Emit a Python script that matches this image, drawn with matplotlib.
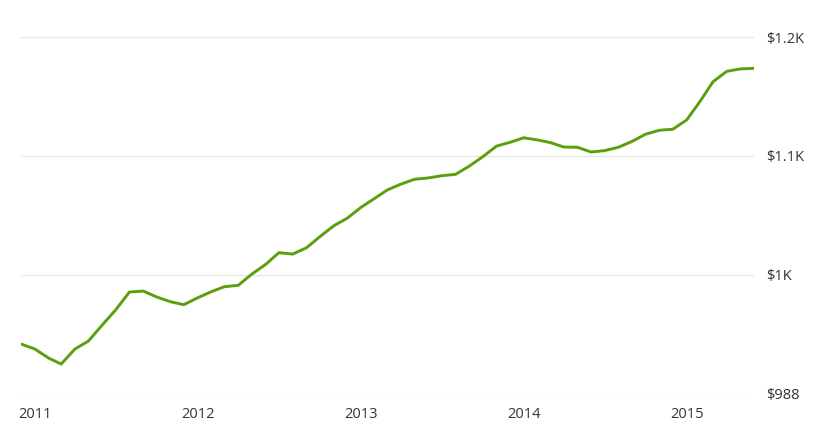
import matplotlib
matplotlib.use("Agg")
import matplotlib.pyplot as plt
import pandas as pd

# Monthly values, Dec 2010 .. Jun 2015
start_month = "2010-12-01"
values = [1012.9, 1010.4, 1005.8, 1002.8, 1010.4, 1014.4, 1022.5, 1030.1, 1039.2, 1039.7,
          1036.7, 1034.3, 1032.8, 1036.3, 1039.4, 1041.9, 1042.6, 1048.2, 1053.1, 1059.1,
          1058.4, 1061.6, 1067.2, 1072.7, 1076.5, 1082.0, 1086.6, 1090.8, 1093.8, 1096.2,
          1096.9, 1098.0, 1098.7, 1102.9, 1107.6, 1113.0, 1114.9, 1117.2, 1116.1, 1114.8,
          1112.5, 1112.4, 1110.0, 1110.7, 1112.4, 1115.4, 1119.0, 1121.0, 1121.5, 1126.2,
          1135.9, 1145.5, 1150.8, 1152.0, 1152.3]
y_ticks = [988, 1048, 1108, 1168]
y_labels = ["$988", "$1K", "$1.1K", "$1.2K"]
x_years = ["2011", "2012", "2013", "2014", "2015"]

dates = pd.date_range(start_month, periods=len(values), freq="MS")

plt.rcParams['font.family'] = ['Open Sans', 'DejaVu Sans']

fig = plt.figure(figsize=(8.23, 4.38), dpi=100)
ax = fig.add_axes([21/823, 1-393.3/438, (754-21)/823, (393.3-37.3)/438])

ax.plot(dates, values, color="#5c9e0e", lw=2.1, solid_joinstyle="round", zorder=3)

ax.set_ylim(y_ticks[0], y_ticks[-1])
ax.set_xlim(dates[0], dates[-1])
ax.set_yticks(y_ticks)
ax.set_yticklabels(y_labels)
xt = [pd.Timestamp(f"{y}-01-01") for y in x_years]
ax.set_xticks(xt)
ax.set_xticklabels(x_years)

ax.yaxis.tick_right()
ax.grid(axis="y", color="#e8e8e8", lw=1)
ax.grid(axis="x", visible=False)
for s in ax.spines.values():
    s.set_visible(False)
ax.tick_params(axis="both", length=0, labelsize=10.5, colors="#333333")
ax.tick_params(axis="y", pad=9)
ax.tick_params(axis="x", pad=10)

fig.savefig("out.png", dpi=100)
